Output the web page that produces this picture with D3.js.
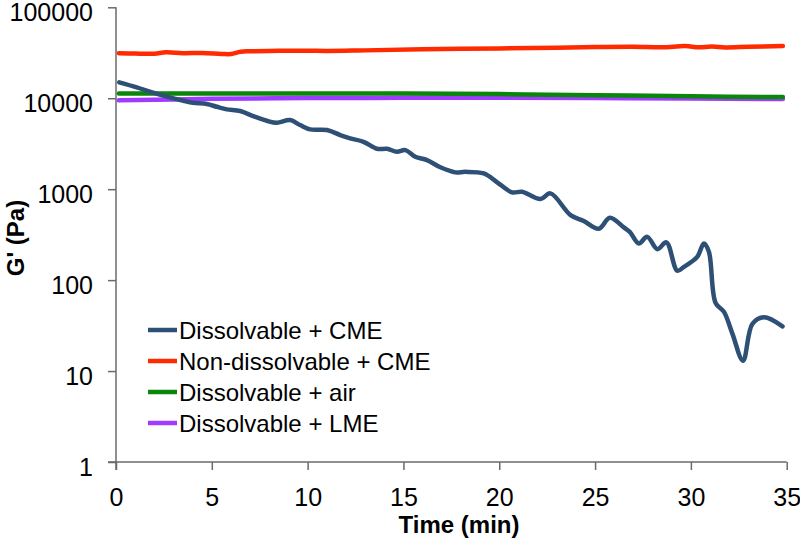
<!DOCTYPE html>
<html>
<head>
<meta charset="utf-8">
<script src="https://cdn.jsdelivr.net/npm/d3@7"></script>
<style>
html,body{margin:0;padding:0;background:#fff;}
svg{display:block;font-family:"Liberation Sans",Arial,sans-serif;}
</style>
</head>
<body>
<svg id="chart" width="800" height="543"></svg>
<script>
// ---- data ----
const seriesNames = ["Dissolvable + CME","Non-dissolvable + CME","Dissolvable + air","Dissolvable + LME"];
const seriesColors = ["#2E5077","#FF2A00","#0A860A","#A03CFF"];
const xTicks = [0,5,10,15,20,25,30,35];
const yTicks = [1,10,100,1000,10000,100000];

const cmeTime = [0.17,1.08,1.93,2.65,3.52,4.02,4.74,5.26,5.78,6.48,7.16,7.87,8.39,9.09,9.61,10.13,11.01,11.70,12.22,12.92,13.62,14.14,14.66,15.10,15.62,16.23,16.93,17.71,18.23,19.19,19.89,20.67,21.19,22.15,22.67,23.72,24.41,25.19,25.77,26.50,26.81,27.28,27.72,28.25,28.72,29.29,29.64,30.33,30.68,30.94,31.29,31.72,32.16,32.72,33.21,33.81,34.78];
const cmeG = [14960,13180,11500,10400,9390,8930,8640,8060,7550,7230,6370,5650,5370,5750,5070,4550,4470,3940,3620,3320,2780,2780,2580,2690,2270,2090,1740,1530,1550,1490,1190,922,936,778,899,519,446,367,484,380,340,253,299,219,260,127,140,180,253,205,56,45,26,13,33,39,31];

const nonDisTime = [0.15,1.0,2.0,2.6,3.5,4.5,5.5,6.0,6.5,7.0,8.5,10,11,13,16,20,23,25,27,28.5,29.7,30.4,31.1,31.8,33,34.8];
const nonDisG = [31300,31000,30900,32000,31300,31500,30700,30600,32500,32800,33200,33300,33100,33600,34500,35300,36000,36500,36800,36300,37500,36400,37000,36200,36800,37500];

const airTime = [0.15,5,10,15,20,25,30,34.8];
const airG = [11300,11300,11300,11250,11100,10800,10500,10300];

const lmeTime = [0.15,5,10,15,20,25,30,34.8];
const lmeG = [9480,9850,10050,10100,10100,10050,9950,9800];

const seriesData = [
  cmeTime.map((t,i)=>({t, v:cmeG[i]})),
  nonDisTime.map((t,i)=>({t, v:nonDisG[i]})),
  airTime.map((t,i)=>({t, v:airG[i]})),
  lmeTime.map((t,i)=>({t, v:lmeG[i]}))
];

// ---- layout ----
const svg = d3.select("#chart");
const mLeft = 116, mRight = 786.7, mTop = 7.3, mBottom = 462;
const x = d3.scaleLinear().domain([0,35]).range([mLeft,mRight]);
const y = d3.scaleLog().domain([1,100000]).range([mBottom,mTop]);
const axisColor = "#6a6a6a";
const tickFont = 25;

// y axis
const yAxis = svg.append("g").attr("transform",`translate(${mLeft},0)`)
  .call(d3.axisLeft(y).tickValues(yTicks).tickFormat(d3.format("d")).tickSize(8).tickPadding(15));
yAxis.select(".domain").attr("stroke",axisColor).attr("stroke-width",1.5).attr("d",`M0,${mTop}V${mBottom+8}`);
yAxis.selectAll(".tick line").attr("stroke",axisColor).attr("stroke-width",1.5);
yAxis.selectAll(".tick text").attr("font-size",tickFont).attr("fill","#000")
  .attr("font-family","Liberation Sans, Arial, sans-serif").attr("dy","0.52em");

// x axis
const xAxis = svg.append("g").attr("transform",`translate(0,${mBottom})`)
  .call(d3.axisBottom(x).tickValues(xTicks).tickSize(8).tickPadding(18));
xAxis.select(".domain").attr("stroke",axisColor).attr("stroke-width",1.5).attr("d",`M${mLeft-8},0H${mRight}`);
xAxis.selectAll(".tick line").attr("stroke",axisColor).attr("stroke-width",1.5);
xAxis.selectAll(".tick text").attr("font-size",tickFont).attr("fill","#000").attr("font-family","Liberation Sans, Arial, sans-serif");

// axis titles
svg.append("text").attr("x",459).attr("y",533).attr("text-anchor","middle")
  .attr("font-size",24).attr("font-weight","bold").text("Time (min)");
svg.append("text").attr("transform",`translate(24,238) rotate(-90)`).attr("text-anchor","middle")
  .attr("font-size",24).attr("font-weight","bold").text("G' (Pa)");

// lines
const line = d3.line().x(d=>x(d.t)).y(d=>y(d.v)).curve(d3.curveCatmullRom.alpha(0.5));
const drawOrder = [1,3,2,0];
drawOrder.forEach(i=>{
  svg.append("path").datum(seriesData[i]).attr("fill","none")
    .attr("stroke",seriesColors[i]).attr("stroke-width",4.5)
    .attr("stroke-linejoin","round").attr("stroke-linecap","round")
    .attr("d",line);
});

// legend
const lg = svg.append("g");
seriesNames.forEach((name,i)=>{
  const yy = 330 + i*31;
  lg.append("line").attr("x1",148).attr("x2",177).attr("y1",yy).attr("y2",yy)
    .attr("stroke",seriesColors[i]).attr("stroke-width",4.5);
  lg.append("text").attr("x",179).attr("y",yy+8.5).attr("font-size",24).attr("fill","#000").text(name);
});
</script>
</body>
</html>
